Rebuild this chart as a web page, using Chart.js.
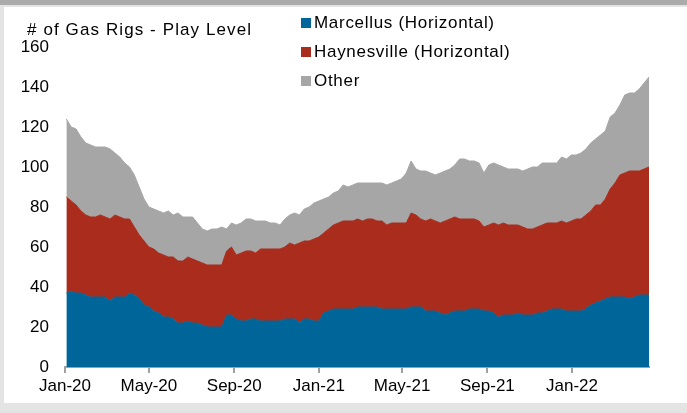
<!DOCTYPE html>
<html>
<head>
<meta charset="utf-8">
<title>Gas Rigs - Play Level</title>
<script src="https://cdn.jsdelivr.net/npm/chart.js@4.4.1/dist/chart.umd.min.js"></script>
<style>
  html, body { margin: 0; padding: 0; }
  body {
    width: 687px; height: 413px; position: relative; overflow: hidden;
    background: #e4e4e4;
    font-family: "Liberation Sans", Arial, sans-serif;
    color: #000;
  }
  #bandTop { position: absolute; left: 0; top: 0; width: 687px; height: 5px; background: #ababab; }
  #panel { position: absolute; left: 4px; top: 7px; width: 683px; height: 396px; background: #fff; }
  #chartBox { position: absolute; left: 0; top: 0; width: 687px; height: 413px; }
  #yTitle { position: absolute; left: 27px; top: 20px; font-size: 17px; letter-spacing: 1.1px; white-space: nowrap; }
  #legend { position: absolute; left: 301px; top: 8px; font-size: 17px; letter-spacing: 0.7px; }
  .item { height: 29px; display: flex; align-items: center; white-space: nowrap; }
  .swatch { width: 10px; height: 10px; margin-right: 3px; }
</style>
</head>
<body>
<div id="bandTop"></div>
<div id="panel"></div>
<div id="chartBox"><canvas id="rigChart" width="687" height="413"></canvas></div>
<div id="yTitle"># of Gas Rigs - Play Level</div>
<div id="legend"></div>

<script>
// Weekly rig counts, first report Fri 3 Jan 2020, last Fri 22 Apr 2022
const firstReportDay = 2;   // days after 1 Jan 2020

const marcellus = [
  37, 38, 37, 37, 36, 35, 35, 35, 35, 33, 35, 35, 35, 37, 36, 34, 31, 30, 28, 27,
  25, 25, 24, 22, 22, 23, 22, 22, 21, 20, 20, 20, 20, 26, 26, 24, 23, 23, 24, 24,
  23, 23, 23, 23, 23, 24, 24, 24, 22, 24, 24, 23, 23, 27, 28, 29, 29, 29, 29, 29,
  30, 30, 30, 30, 30, 29, 29, 29, 29, 29, 29, 30, 30, 30, 28, 28, 28, 27, 26, 27,
  28, 28, 28, 29, 29, 29, 28, 28, 27, 25, 26, 26, 26, 27, 26, 26, 26, 27, 27, 28,
  29, 29, 29, 28, 28, 28, 28, 29, 31, 32, 33, 34, 35, 35, 35, 35, 34, 35, 36, 36,
  36
];

const haynesville = [
  48, 45, 44, 41, 40, 40, 40, 41, 40, 41, 41, 40, 39, 37, 34, 32, 32, 30, 31, 30,
  31, 30, 31, 31, 31, 32, 32, 31, 31, 31, 31, 31, 31, 32, 34, 32, 34, 35, 34, 33,
  36, 36, 36, 36, 36, 36, 38, 37, 40, 39, 39, 41, 42, 40, 41, 42, 43, 44, 44, 44,
  44, 43, 44, 44, 43, 44, 42, 43, 43, 43, 43, 47, 46, 44, 45, 46, 45, 45, 47, 47,
  47, 46, 46, 45, 45, 44, 42, 43, 45, 46, 46, 45, 45, 44, 44, 43, 43, 43, 44, 44,
  43, 43, 44, 44, 45, 46, 46, 47, 47, 49, 48, 50, 54, 57, 61, 62, 64, 63, 62, 63,
  64
];

const other = [
  39, 37, 38, 37, 36, 36, 35, 34, 35, 35, 31, 30, 28, 26, 26, 24, 21, 20, 20, 21,
  21, 23, 21, 24, 22, 20, 21, 19, 17, 17, 18, 18, 19, 11, 12, 15, 15, 16, 16, 16,
  14, 14, 13, 13, 12, 14, 14, 16, 14, 16, 17, 18, 18, 17, 16, 16, 16, 18, 17, 18,
  18, 19, 18, 18, 19, 19, 20, 20, 21, 22, 25, 26, 23, 24, 25, 23, 23, 25, 25, 25,
  26, 30, 30, 29, 29, 29, 27, 30, 30, 30, 28, 28, 28, 28, 28, 30, 31, 30, 31, 30,
  30, 30, 32, 32, 33, 32, 33, 33, 34, 33, 35, 34, 36, 35, 35, 39, 39, 39, 41, 43,
  45
];

const seriesNames = ['Marcellus (Horizontal)', 'Haynesville (Horizontal)', 'Other'];
const seriesColors = ['#006699', '#a92c1d', '#a6a6a6'];

// x-axis ticks: first of Jan / May / Sep, as days after 1 Jan 2020
const tickDays = [0, 121, 244, 366, 486, 609, 731];
const tickLabels = ['Jan-20', 'May-20', 'Sep-20', 'Jan-21', 'May-21', 'Sep-21', 'Jan-22'];

const yMax = 160;
const yStep = 20;

const seriesValues = [marcellus, haynesville, other];
const weekDays = marcellus.map((_, i) => firstReportDay + 7 * i);

const baseFont = { family: '"Liberation Sans", Arial, sans-serif', size: 17 };

// HTML legend, one row per series
const legendEl = document.getElementById('legend');
seriesNames.forEach((name, k) => {
    const row = document.createElement('div');
    row.className = 'item';
    row.innerHTML = `<span class="swatch" style="background:${seriesColors[k]}"></span>${name}`;
    legendEl.appendChild(row);
});

const datasets = seriesValues.map((vals, k) => ({
    label: seriesNames[k],
    data: vals.map((v, i) => ({ x: weekDays[i], y: v })),
    backgroundColor: seriesColors[k],
    borderColor: seriesColors[k],
    borderWidth: 1,
    pointRadius: 0,
    tension: 0,
    fill: k === 0 ? 'origin' : '-1'
}));

new Chart(document.getElementById('rigChart'), {
    type: 'line',
    data: { datasets },
    options: {
        responsive: false,
        animation: false,
        layout: { padding: { top: 47, right: 38, bottom: 0, left: 0 } },
        plugins: { legend: { display: false }, tooltip: { enabled: false } },
        scales: {
            x: {
                type: 'linear',
                min: 0,
                max: weekDays[weekDays.length - 1],
                afterBuildTicks: axis => { axis.ticks = tickDays.map(v => ({ value: v })); },
                afterFit: scale => { scale.height = 46; },
                ticks: {
                    autoSkip: false,
                    maxRotation: 0,
                    padding: 3,
                    color: '#000',
                    font: baseFont,
                    callback: (v, i) => tickLabels[i]
                },
                grid: { drawOnChartArea: false, drawTicks: true, tickLength: 6, color: '#a0a0a0', lineWidth: 2 },
                border: { display: true, color: '#a0a0a0', width: 2 }
            },
            y: {
                stacked: true,
                min: 0,
                max: yMax,
                afterFit: scale => { scale.width = 65; },
                ticks: { stepSize: yStep, padding: 16, color: '#000', font: baseFont },
                grid: { display: false, drawTicks: false },
                border: { display: false }
            }
        }
    }
});
</script>
</body>
</html>
